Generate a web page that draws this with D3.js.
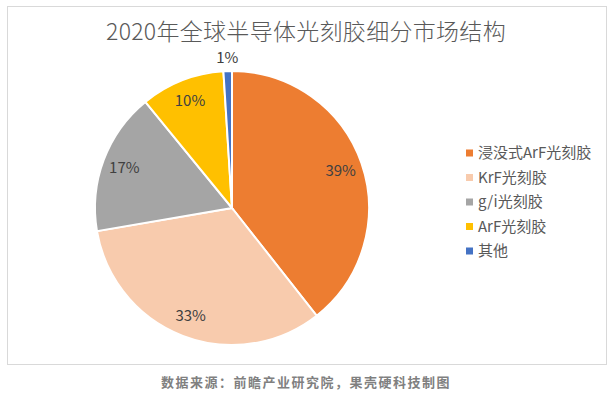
<!DOCTYPE html>
<html>
<head>
<meta charset="utf-8">
<script src="https://cdn.jsdelivr.net/npm/d3@7"></script>
<style>
  body { margin: 0; background: #fff; }
  svg { display: block; }
</style>
</head>
<body>
<svg id="chart" width="615" height="393"></svg>
<script>
const categories = ["浸没式ArF光刻胶", "KrF光刻胶", "g/i光刻胶", "ArF光刻胶", "其他"];
const shares = [39.4, 32.9, 16.8, 9.9, 1.0];
const shareLabels = ["39%", "33%", "17%", "10%", "1%"];
const colors = ["#ED7D31", "#F8CBAD", "#A5A5A5", "#FFC000", "#4472C4"];

const font = "'Noto Sans CJK SC', 'Noto Sans', sans-serif";
const width = 615, height = 393;
const cx = 232, cy = 208, r = 137;

const svg = d3.select("#chart");

// 外框
svg.append("rect")
  .attr("x", 7.5).attr("y", 6.5)
  .attr("width", 599).attr("height", 358)
  .attr("fill", "#fff")
  .attr("stroke", "#d9d9d9")
  .attr("stroke-width", 1);

svg.append("text")
  .attr("x", 306)
  .attr("y", 40)
  .attr("text-anchor", "middle")
  .attr("font-family", font)
  .attr("font-size", "23px")
  .attr("font-weight", 300)
  .attr("letter-spacing", "0.3px")
  .attr("fill", "#595959")
  .text("2020年全球半导体光刻胶细分市场结构");

const data = categories.map((c, i) => ({ name: c, value: shares[i], label: shareLabels[i], color: colors[i] }));

const pie = d3.pie().sort(null).value(d => d.value);
const arcs = pie(data);
const arc = d3.arc().innerRadius(0).outerRadius(r);
const labelArc = d3.arc().innerRadius(115).outerRadius(115);
const outerArc = d3.arc().innerRadius(150).outerRadius(150);

const g = svg.append("g").attr("transform", `translate(${cx},${cy})`);

g.selectAll("path")
  .data(arcs)
  .join("path")
  .attr("d", arc)
  .attr("fill", d => d.data.color)
  .attr("stroke", "#fff")
  .attr("stroke-width", 2);

g.selectAll("text")
  .data(arcs)
  .join("text")
  .attr("transform", d => {
    const p = (d.data.value < 3 ? outerArc : labelArc).centroid(d);
    return `translate(${p[0]},${p[1]})`;
  })
  .attr("text-anchor", "middle")
  .attr("dy", "0.35em")
  .attr("font-family", font)
  .attr("font-size", "15px")
  .attr("fill", "#404040")
  .text(d => d.data.label);

// 图例
const legend = svg.append("g").attr("transform", "translate(466,153)");
const rows = legend.selectAll("g")
  .data(data)
  .join("g")
  .attr("transform", (d, i) => `translate(0,${i * 24.5})`);

rows.append("rect")
  .attr("x", 0).attr("y", -3.5)
  .attr("width", 7).attr("height", 7)
  .attr("fill", d => d.color);

rows.append("text")
  .attr("x", 12)
  .attr("dy", "0.35em")
  .attr("font-family", font)
  .attr("font-size", "15px")
  .attr("fill", "#595959")
  .text(d => d.name);

svg.append("text")
  .attr("x", 306)
  .attr("y", 382)
  .attr("dy", "0.35em")
  .attr("text-anchor", "middle")
  .attr("font-family", font)
  .attr("font-size", "13px")
  .attr("font-weight", "bold")
  .attr("letter-spacing", "1.5px")
  .attr("fill", "#808080")
  .text("数据来源：前瞻产业研究院，果壳硬科技制图");
</script>
</body>
</html>
